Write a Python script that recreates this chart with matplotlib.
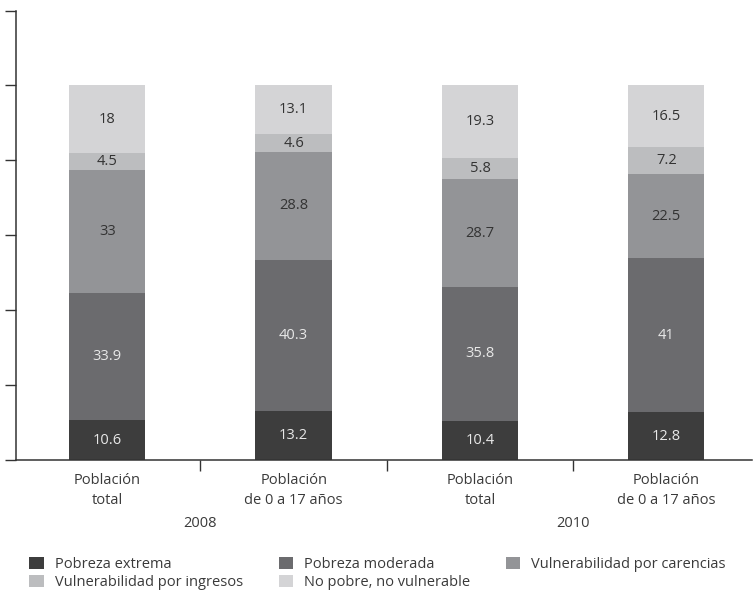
import matplotlib
matplotlib.use("Agg")
import matplotlib.pyplot as plt
from matplotlib.patches import Patch

plt.rcParams['font.family'] = ['Open Sans', 'DejaVu Sans']

categories = ["Población\ntotal", "Población\nde 0 a 17 años",
              "Población\ntotal", "Población\nde 0 a 17 años"]
years = ["2008", "2010"]

series_names = ["Pobreza extrema", "Pobreza moderada", "Vulnerabilidad por carencias",
                "Vulnerabilidad por ingresos", "No pobre, no vulnerable"]
pobreza_extrema = [10.6, 13.2, 10.4, 12.8]
pobreza_moderada = [33.9, 40.3, 35.8, 41.0]
vuln_carencias = [33.0, 28.8, 28.7, 22.5]
vuln_ingresos = [4.5, 4.6, 5.8, 7.2]
no_pobre = [18.0, 13.1, 19.3, 16.5]
value_labels = [
    ["10.6", "13.2", "10.4", "12.8"],
    ["33.9", "40.3", "35.8", "41"],
    ["33", "28.8", "28.7", "22.5"],
    ["4.5", "4.6", "5.8", "7.2"],
    ["18", "13.1", "19.3", "16.5"],
]

series = [pobreza_extrema, pobreza_moderada, vuln_carencias, vuln_ingresos, no_pobre]
colors = ["#3d3d3d", "#6b6b6e", "#939497", "#bcbdbf", "#d4d4d6"]
text_colors = ["#e8e8e8", "#e8e8e8", "#333333", "#333333", "#333333"]
ink = "#3a3a3a"

fig = plt.figure(figsize=(7.54, 5.96), dpi=100)
ax = fig.add_axes([16 / 754, 1 - 460 / 596, 736 / 754, 449.5 / 596])

x = list(range(len(categories)))
bottom = [0.0] * len(x)
for vals, col, tcol, labs in zip(series, colors, text_colors, value_labels):
    ax.bar(x, vals, width=0.41, bottom=bottom, color=col, linewidth=0)
    for xi, b, v, lab in zip(x, bottom, vals, labs):
        ax.text(xi, b + v / 2, lab, ha="center", va="center",
                color=tcol, fontsize=10.5)
    bottom = [b + v for b, v in zip(bottom, vals)]

ax.set_xlim(-0.49, 3.46)
ax.set_ylim(0, 120)
ax.set_yticks(range(0, 121, 20))
ax.set_yticklabels([])
ax.set_xticks([0.5, 1.5, 2.5])
ax.set_xticklabels([])
ax.tick_params(axis="both", direction="out", length=8, width=1, color="#333333")
for s in ["top", "right"]:
    ax.spines[s].set_visible(False)
for s in ["left", "bottom"]:
    ax.spines[s].set_color("#333333")
    ax.spines[s].set_linewidth(1.1)

for xi, cat in zip(x, categories):
    ax.text(xi, -3.4, cat, ha="center", va="top", fontsize=10.5,
            color=ink, linespacing=1.45)
for i, yr in enumerate(years):
    ax.text(2 * i + 0.5, -15.0, yr, ha="center", va="top", fontsize=10.5,
            color=ink)

handles = [Patch(facecolor=c, edgecolor="none", label=n) for c, n in zip(colors, series_names)]
order = [0, 3, 1, 4, 2]
fig.legend([handles[i] for i in order], [series_names[i] for i in order],
           ncol=3, loc="upper left", bbox_to_anchor=(16 / 754, 1 - 544 / 596),
           frameon=False, fontsize=10.5, handlelength=1.0, handleheight=0.9,
           handletextpad=0.75, columnspacing=2.45, labelspacing=0.2,
           labelcolor=ink)

fig.savefig("out.png", dpi=100)
